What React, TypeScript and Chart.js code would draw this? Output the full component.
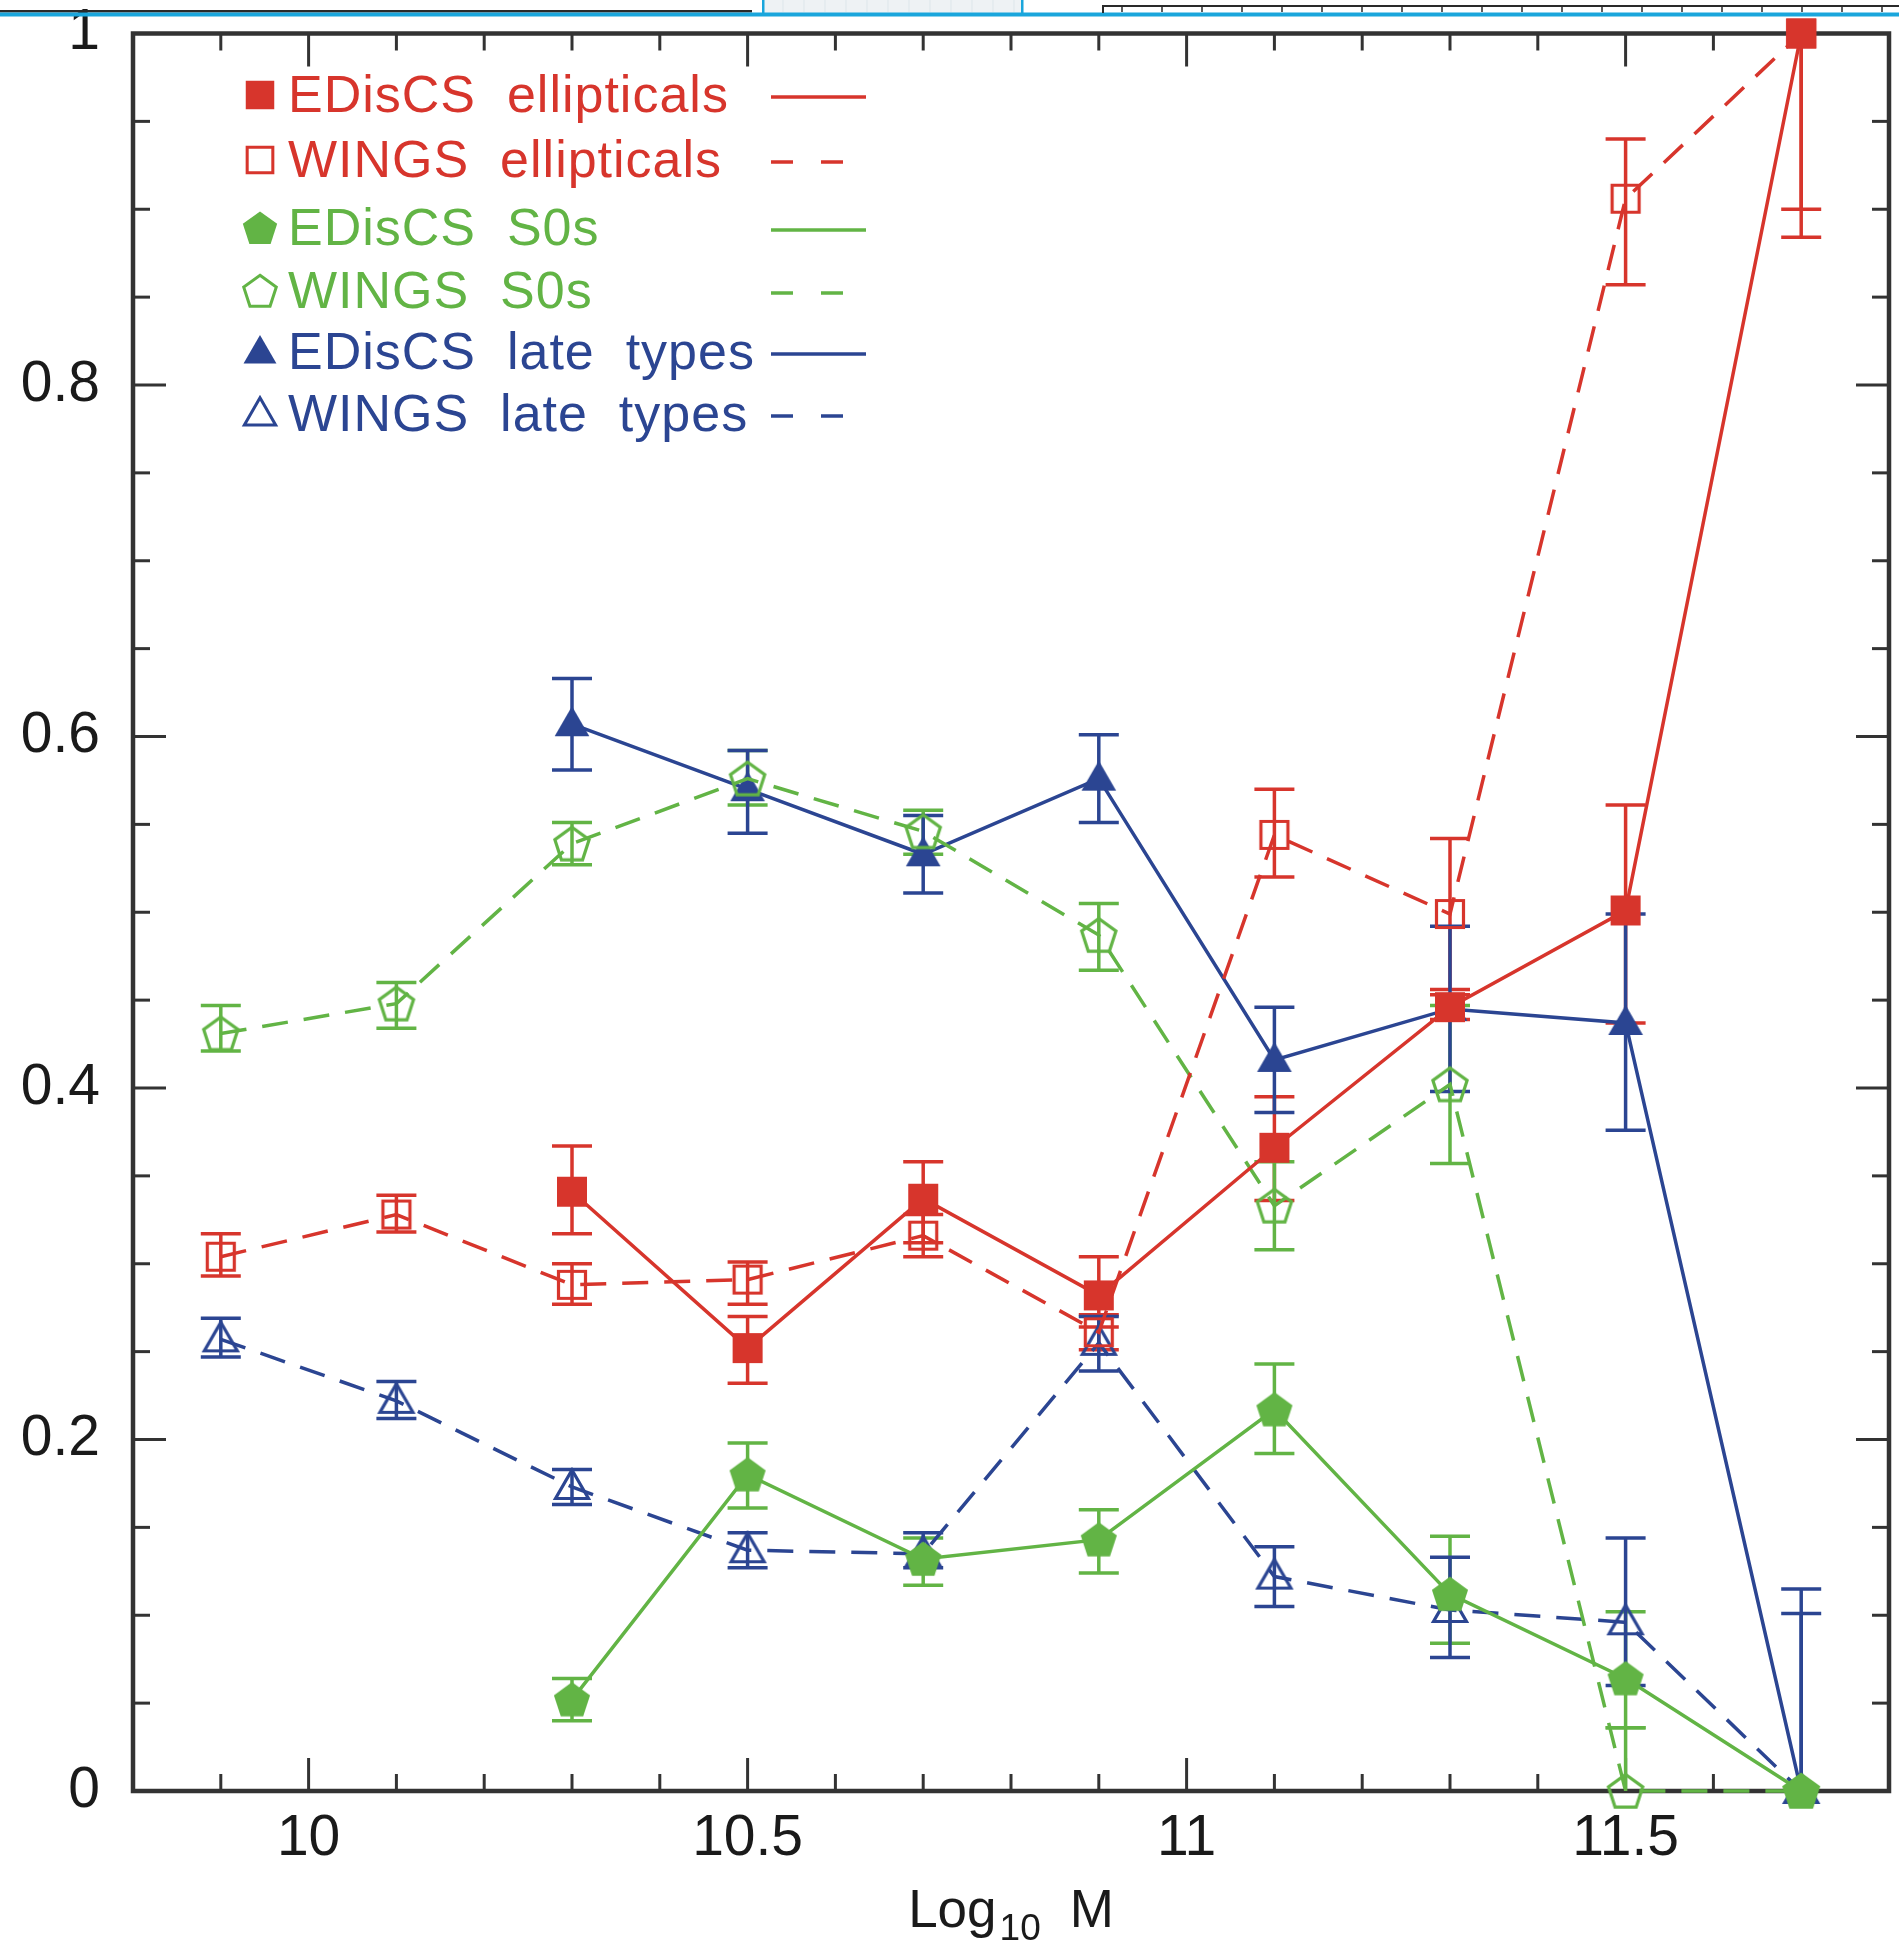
import { useEffect, useRef } from 'react';
import { Chart, registerables } from 'chart.js';

Chart.register(...registerables);

// ---------------- data ----------------
const massBins = [9.9, 10.1, 10.3, 10.5, 10.7, 10.9, 11.1, 11.3, 11.5, 11.7];

const xTickValues = [10, 10.5, 11, 11.5];
const xTickLabels = ['10', '10.5', '11', '11.5'];
const xMinorTicks = [9.9, 10.1, 10.2, 10.3, 10.4, 10.6, 10.7, 10.8, 10.9, 11.1, 11.2, 11.3, 11.4, 11.6, 11.7];
const yTickValues = [0, 0.2, 0.4, 0.6, 0.8, 1];
const yTickLabels = ['0', '0.2', '0.4', '0.6', '0.8', '1'];
const yMinorTicks = [0.05, 0.1, 0.15, 0.25, 0.3, 0.35, 0.45, 0.5, 0.55, 0.65, 0.7, 0.75, 0.85, 0.9, 0.95];

const seriesLabels = [
  'EDisCS ellipticals',
  'WINGS ellipticals',
  'EDisCS S0s',
  'WINGS S0s',
  'EDisCS late types',
  'WINGS late types',
];
const axisTitleMain = 'Log';
const axisTitleSub = '10';
const axisTitleTail = 'M';

const edisEll = [null, null, 0.341, 0.252, 0.337, 0.282, 0.366, 0.446, 0.501, 1.0];
const edisEllLo = [null, null, 0.024, 0.02, 0.025, 0.018, 0.03, 0.007, 0.064, 0.116];
const edisEllHi = [null, null, 0.026, 0.018, 0.021, 0.022, 0.029, 0.007, 0.06, 0];

const wingsEll = [0.304, 0.328, 0.288, 0.291, 0.316, 0.261, 0.544, 0.499, 0.906, 1.0];
const wingsEllLo = [0.011, 0.01, 0.011, 0.014, 0.012, 0.01, 0.024, 0.043, 0.049, 0.1];
const wingsEllHi = [0.013, 0.011, 0.012, 0.01, 0.012, 0.01, 0.026, 0.043, 0.034, 0];

const edisS0 = [null, null, 0.052, 0.18, 0.132, 0.143, 0.217, 0.112, 0.064, 0];
const edisS0Lo = [null, null, 0.012, 0.019, 0.015, 0.019, 0.025, 0.028, 0.028, 0];
const edisS0Hi = [null, null, 0.012, 0.018, 0.012, 0.017, 0.026, 0.033, 0.038, 0];

const wingsS0 = [0.431, 0.448, 0.539, 0.576, 0.546, 0.487, 0.333, 0.402, 0, 0];
const wingsS0Lo = [0.01, 0.014, 0.012, 0.015, 0.013, 0.02, 0.025, 0.045, 0, 0];
const wingsS0Hi = [0.016, 0.012, 0.012, 0.016, 0.012, 0.018, 0.025, 0.045, 0.036, 0];

const edisLate = [null, null, 0.607, 0.57, 0.533, 0.576, 0.416, 0.445, 0.437, 0];
const edisLateLo = [null, null, 0.026, 0.025, 0.022, 0.025, 0.03, 0.047, 0.061, 0];
const edisLateHi = [null, null, 0.026, 0.022, 0.022, 0.025, 0.03, 0.047, 0.062, 0.115];

const wingsLate = [0.257, 0.222, 0.173, 0.137, 0.135, 0.255, 0.122, 0.103, 0.096, 0];
const wingsLateLo = [0.01, 0.01, 0.01, 0.01, 0.008, 0.016, 0.017, 0.027, 0.036, 0];
const wingsLateHi = [0.012, 0.011, 0.01, 0.01, 0.012, 0.015, 0.017, 0.03, 0.048, 0.101];

// ---------------- styles ----------------
const RED = '#d7352c';
const GREEN = '#62b445';
const BLUE = '#2b4592';
const FONT = "'Liberation Sans', Arial, Helvetica, sans-serif";
const DASH = [26, 16];

type Shape = 'square' | 'pentagon' | 'triangle';

interface Series {
  label: string;
  values: (number | null)[];
  lo: (number | null)[];
  hi: (number | null)[];
  color: string;
  dashed: boolean;
  shape: Shape;
  filled: boolean;
}

const series: Series[] = [
  { label: seriesLabels[0], values: edisEll, lo: edisEllLo, hi: edisEllHi, color: RED, dashed: false, shape: 'square', filled: true },
  { label: seriesLabels[1], values: wingsEll, lo: wingsEllLo, hi: wingsEllHi, color: RED, dashed: true, shape: 'square', filled: false },
  { label: seriesLabels[2], values: edisS0, lo: edisS0Lo, hi: edisS0Hi, color: GREEN, dashed: false, shape: 'pentagon', filled: true },
  { label: seriesLabels[3], values: wingsS0, lo: wingsS0Lo, hi: wingsS0Hi, color: GREEN, dashed: true, shape: 'pentagon', filled: false },
  { label: seriesLabels[4], values: edisLate, lo: edisLateLo, hi: edisLateHi, color: BLUE, dashed: false, shape: 'triangle', filled: true },
  { label: seriesLabels[5], values: wingsLate, lo: wingsLateLo, hi: wingsLateHi, color: BLUE, dashed: true, shape: 'triangle', filled: false },
];

function makeMarker(shape: Shape, color: string, filled: boolean, scale = 1): HTMLCanvasElement {
  const size = Math.ceil(50 * scale);
  const c = document.createElement('canvas');
  c.width = size;
  c.height = size;
  const ctx = c.getContext('2d')!;
  ctx.translate(size / 2, size / 2);
  ctx.scale(scale, scale);
  ctx.beginPath();
  if (shape === 'square') {
    const h = filled ? 15 : 13.5;
    ctx.rect(-h, -h, 2 * h, 2 * h);
  } else if (shape === 'pentagon') {
    const r = filled ? 19 : 18;
    for (let i = 0; i < 5; i++) {
      const a = ((-90 + 72 * i) * Math.PI) / 180;
      const px = r * Math.cos(a);
      const py = r * Math.sin(a) + 1.5;
      if (i === 0) ctx.moveTo(px, py);
      else ctx.lineTo(px, py);
    }
  } else {
    const r = filled ? 20 : 19;
    for (let i = 0; i < 3; i++) {
      const a = ((-90 + 120 * i) * Math.PI) / 180;
      const px = r * Math.cos(a);
      const py = r * Math.sin(a) + 2;
      if (i === 0) ctx.moveTo(px, py);
      else ctx.lineTo(px, py);
    }
  }
  ctx.closePath();
  if (filled) {
    ctx.fillStyle = color;
    ctx.fill();
  } else {
    ctx.strokeStyle = color;
    ctx.lineWidth = 3.2;
    ctx.stroke();
  }
  return c;
}

const legendBaselines = [112, 177, 245, 308, 369, 431];

export default function App() {
  const canvasRef = useRef<HTMLCanvasElement | null>(null);

  useEffect(() => {
    const canvas = canvasRef.current;
    if (!canvas) return;

    const markers = series.map((s) => makeMarker(s.shape, s.color, s.filled, 1));
    const legendMarkers = series.map((s) => makeMarker(s.shape, s.color, s.filled, 0.95));

    const datasets = series.map((s, si) => ({
      label: s.label,
      data: massBins
        .map((m, i) => ({ x: m, y: s.values[i] }))
        .filter((p) => p.y !== null) as { x: number; y: number }[],
      borderColor: s.color,
      backgroundColor: s.color,
      borderWidth: 3.5,
      borderDash: s.dashed ? DASH : [],
      pointStyle: markers[si],
      pointRadius: 14,
      pointHoverRadius: 14,
      tension: 0,
      clip: false as const,
      fill: false,
    }));

    const framePlugin = {
      id: 'frameTicks',
      beforeDatasetsDraw(chart: any) {
        const { ctx, chartArea, scales } = chart;
        const { left, right, top, bottom } = chartArea;
        const xs = scales.x;
        const ys = scales.y;
        ctx.save();
        ctx.strokeStyle = '#333333';
        ctx.lineWidth = 3;
        ctx.setLineDash([]);
        const major = 33;
        const minor = 17;
        const tick = (x1: number, y1: number, x2: number, y2: number) => {
          ctx.beginPath();
          ctx.moveTo(x1, y1);
          ctx.lineTo(x2, y2);
          ctx.stroke();
        };
        xTickValues.forEach((v) => {
          const px = xs.getPixelForValue(v);
          tick(px, bottom, px, bottom - major);
          tick(px, top, px, top + major);
        });
        xMinorTicks.forEach((v) => {
          const px = xs.getPixelForValue(v);
          tick(px, bottom, px, bottom - minor);
          tick(px, top, px, top + minor);
        });
        yTickValues.forEach((v) => {
          const py = ys.getPixelForValue(v);
          tick(left, py, left + major, py);
          tick(right, py, right - major, py);
        });
        yMinorTicks.forEach((v) => {
          const py = ys.getPixelForValue(v);
          tick(left, py, left + minor, py);
          tick(right, py, right - minor, py);
        });
        ctx.lineWidth = 4.5;
        ctx.strokeRect(left, top, right - left, bottom - top);
        ctx.restore();
      },
    };

    const errorBarPlugin = {
      id: 'errorBars',
      beforeDatasetsDraw(chart: any) {
        const { ctx, scales } = chart;
        const xs = scales.x;
        const ys = scales.y;
        ctx.save();
        ctx.lineWidth = 3.5;
        ctx.setLineDash([]);
        const capHalf = 20;
        series.forEach((s) => {
          ctx.strokeStyle = s.color;
          massBins.forEach((m, i) => {
            const v = s.values[i];
            if (v === null || v === undefined) return;
            const lo = s.lo[i] ?? 0;
            const hi = s.hi[i] ?? 0;
            if (!lo && !hi) return;
            const px = xs.getPixelForValue(m);
            const topV = Math.min(1, v + hi);
            const botV = Math.max(0, v - lo);
            const yTop = ys.getPixelForValue(topV);
            const yBot = ys.getPixelForValue(botV);
            ctx.beginPath();
            ctx.moveTo(px, yTop);
            ctx.lineTo(px, yBot);
            ctx.stroke();
            if (hi > 0 && v + hi < 1) {
              ctx.beginPath();
              ctx.moveTo(px - capHalf, yTop);
              ctx.lineTo(px + capHalf, yTop);
              ctx.stroke();
            }
            if (lo > 0 && v - lo > 0) {
              ctx.beginPath();
              ctx.moveTo(px - capHalf, yBot);
              ctx.lineTo(px + capHalf, yBot);
              ctx.stroke();
            }
          });
        });
        ctx.restore();
      },
    };

    const decorPlugin = {
      id: 'decor',
      afterDraw(chart: any) {
        const { ctx, chartArea } = chart;
        ctx.save();
        // legend
        series.forEach((s, i) => {
          const base = legendBaselines[i];
          const cy = base - 17;
          const mk = legendMarkers[i];
          ctx.drawImage(mk, 260 - mk.width / 2, cy - mk.height / 2);
          ctx.fillStyle = s.color;
          ctx.font = `52px ${FONT}`;
          ctx.textAlign = 'left';
          ctx.textBaseline = 'alphabetic';
          try {
            (ctx as any).letterSpacing = '1px';
          } catch (e) {
            /* ignore */
          }
          ctx.fillText(s.label.replace(/ /g, '  '), 288, base);
          try {
            (ctx as any).letterSpacing = '0px';
          } catch (e) {
            /* ignore */
          }
          ctx.strokeStyle = s.color;
          ctx.lineWidth = 3.5;
          ctx.beginPath();
          if (s.dashed) {
            ctx.setLineDash([22, 28]);
            ctx.moveTo(771, cy + 2);
            ctx.lineTo(847, cy + 2);
          } else {
            ctx.setLineDash([]);
            ctx.moveTo(771, cy + 2);
            ctx.lineTo(866, cy + 2);
          }
          ctx.stroke();
        });
        ctx.setLineDash([]);

        // x-axis title with subscript
        const cx = (chartArea.left + chartArea.right) / 2;
        ctx.fillStyle = '#1a1a1a';
        ctx.textAlign = 'left';
        ctx.textBaseline = 'alphabetic';
        ctx.font = `53px ${FONT}`;
        const w1 = ctx.measureText(axisTitleMain).width;
        const w3 = ctx.measureText(axisTitleTail).width;
        ctx.font = `37px ${FONT}`;
        const w2 = ctx.measureText(axisTitleSub).width;
        const gapA = 3;
        const gapB = 29;
        const total = w1 + gapA + w2 + gapB + w3;
        let tx = cx - total / 2;
        ctx.font = `53px ${FONT}`;
        ctx.fillText(axisTitleMain, tx, 1927);
        tx += w1 + gapA;
        ctx.font = `37px ${FONT}`;
        ctx.fillText(axisTitleSub, tx, 1940);
        tx += w2 + gapB;
        ctx.font = `53px ${FONT}`;
        ctx.fillText(axisTitleTail, tx, 1927);

        // screenshot artifacts at the very top
        ctx.fillStyle = '#2a2a2a';
        ctx.fillRect(0, 10, 752, 2.5);
        ctx.fillStyle = '#eef2f4';
        ctx.fillRect(763, 0, 260, 13);
        ctx.strokeStyle = '#dde6ea';
        ctx.lineWidth = 1;
        for (let gx = 783; gx < 1023; gx += 21) {
          ctx.beginPath();
          ctx.moveTo(gx, 0);
          ctx.lineTo(gx, 12);
          ctx.stroke();
        }
        ctx.fillStyle = '#1aa6dc';
        ctx.fillRect(762, 0, 2.5, 14);
        ctx.fillRect(1021, 0, 2.5, 14);
        ctx.fillRect(0, 12.5, 1899, 4);
        ctx.fillStyle = '#2a2a2a';
        ctx.fillRect(1102, 5, 797, 2);
        ctx.strokeStyle = '#2a2a2a';
        ctx.lineWidth = 1.5;
        ctx.fillRect(1102, 5, 2, 8);
        for (let rx = 1122; rx < 1899; rx += 40) {
          ctx.beginPath();
          ctx.moveTo(rx, 6);
          ctx.lineTo(rx, 12);
          ctx.stroke();
        }
        ctx.restore();
      },
    };

    const chart = new Chart(canvas, {
      type: 'line',
      data: { datasets: datasets as any },
      options: {
        animation: false,
        responsive: false,
        devicePixelRatio: 1,
        events: [],
        layout: { autoPadding: false, padding: { top: 33.5, right: 10, left: 0, bottom: 0 } },
        plugins: {
          legend: { display: false },
          tooltip: { enabled: false },
          title: { display: false },
        },
        elements: { line: { tension: 0 } },
        scales: {
          x: {
            type: 'linear',
            min: 9.8,
            max: 11.8,
            grid: { display: false, drawTicks: false },
            border: { display: false },
            afterBuildTicks: (s: any) => {
              s.ticks = xTickValues.map((v) => ({ value: v }));
            },
            afterFit: (s: any) => {
              s.height = 155;
              s.paddingLeft = 0;
              s.paddingRight = 0;
              s.paddingTop = 0;
              s.paddingBottom = 0;
            },
            ticks: {
              autoSkip: false,
              maxRotation: 0,
              padding: 20,
              color: '#1a1a1a',
              font: { family: FONT, size: 57, lineHeight: 1 },
              callback: (_v: any, i: number) => xTickLabels[i],
            },
          },
          y: {
            type: 'linear',
            min: 0,
            max: 1,
            grid: { display: false, drawTicks: false },
            border: { display: false },
            afterBuildTicks: (s: any) => {
              s.ticks = yTickValues.map((v) => ({ value: v }));
            },
            afterFit: (s: any) => {
              s.width = 133;
              s.paddingLeft = 0;
              s.paddingRight = 0;
              s.paddingTop = 0;
              s.paddingBottom = 0;
            },
            ticks: {
              autoSkip: false,
              padding: 33,
              color: '#1a1a1a',
              font: { family: FONT, size: 57, lineHeight: 1 },
              callback: (_v: any, i: number) => yTickLabels[i],
            },
          },
        },
      } as any,
      plugins: [framePlugin, errorBarPlugin, decorPlugin],
    });

    return () => {
      chart.destroy();
    };
  }, []);

  return (
    <div style={{ position: 'absolute', left: 0, top: 0, width: 1899, height: 1946, background: '#ffffff' }}>
      <canvas ref={canvasRef} width={1899} height={1946} style={{ width: 1899, height: 1946, display: 'block' }} />
    </div>
  );
}
